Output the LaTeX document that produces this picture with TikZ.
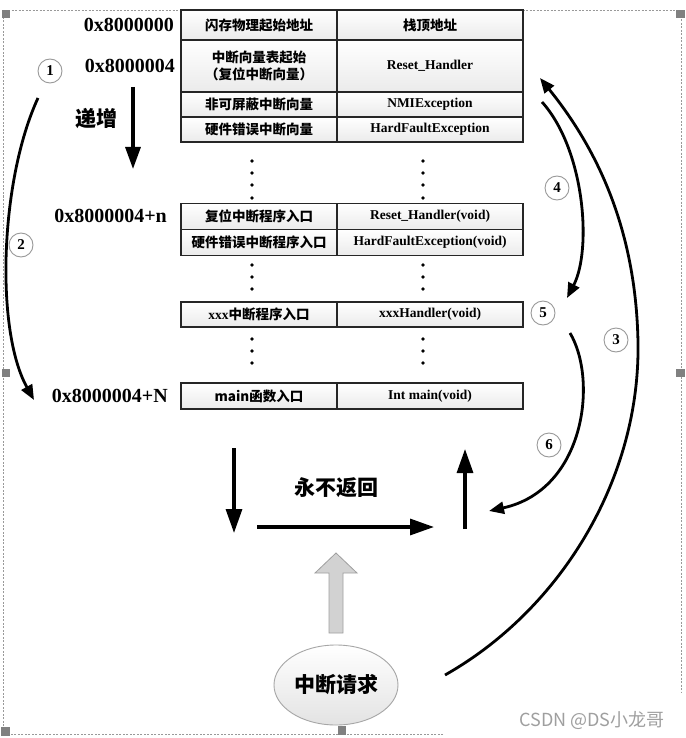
\documentclass[tikz,border=0pt]{standalone}
\usepackage{fontspec}
\setmainfont{Liberation Serif}
\newfontfamily\cjk{Noto Sans CJK SC}
\usetikzlibrary{arrows.meta,shapes.geometric}
\begin{document}
\begin{tikzpicture}[x=1pt,y=-1pt,
  cell/.style={draw=black!85, line width=1.1pt, top color=white, bottom color=gray!16,
    inner sep=0pt, align=center, font=\cjk\bfseries\fontsize{13.5}{17}\selectfont},
  lcell/.style={cell, minimum width=156pt},
  rcell/.style={cell, minimum width=186pt, font=\bfseries\fontsize{13.5}{15}\selectfont},
  addr/.style={anchor=east, inner sep=0pt, font=\bfseries\fontsize{20}{22}\selectfont},
  num/.style={circle, draw=gray!80, line width=0.9pt, minimum size=24pt, inner sep=0pt,
    fill=white, font=\bfseries\fontsize{15}{15}\selectfont},
  big/.style={font=\cjk\bfseries\fontsize{21}{23}\selectfont, inner sep=0pt},
  curv/.style={line width=2.8pt, -{Triangle[length=15pt,width=12pt]}},
  strt/.style={line width=3.2pt, -{Triangle[length=24pt,width=16pt]}},
  handle/.style={fill=gray},
  frame/.style={draw=gray!80, line width=0.7pt, dash pattern=on 2pt off 1.5pt}
]
\useasboundingbox (0,0) rectangle (685,738);
\fill[white] (0,0) rectangle (685,738);

% selection frame
\draw[frame] (443,734) -- (3,734) -- (3,10) -- (681,10) -- (681,693);
\fill[handle] (2,10) rectangle (10,18);
\fill[handle] (338,10) rectangle (346,18);
\fill[handle] (676,10) rectangle (685,18);
\fill[handle] (2,369) rectangle (10,377);
\fill[handle] (676,369) rectangle (685,377);
\fill[handle] (1,727) rectangle (10,736);
\fill[handle] (338,726) rectangle (346,735);

% table, upper part
\node[lcell, minimum height=30pt] (l1) at (259,25) {闪存物理起始地址};
\node[rcell, minimum height=30pt] (r1) at (430,25) {\cjk 栈顶地址};
\node[lcell, minimum height=52pt] (l2) at (259,66) {中断向量表起始\\（复位中断向量）};
\node[rcell, minimum height=52pt] (r2) at (430,66) {Reset\_Handler};
\node[lcell, minimum height=25pt] (l3) at (259,104.5) {非可屏蔽中断向量};
\node[rcell, minimum height=25pt] (r3) at (430,104.5) {NMIException};
\node[lcell, minimum height=25pt] (l4) at (259,129.5) {硬件错误中断向量};
\node[rcell, minimum height=25pt] (r4) at (430,129.5) {HardFaultException};

\node[lcell, minimum height=26pt] (l5) at (259,216.5) {复位中断程序入口};
\node[rcell, minimum height=26pt] (r5) at (430,216.5) {Reset\_Handler(void)};
\node[lcell, minimum height=26pt] (l6) at (259,242.5) {硬件错误中断程序入口};
\node[rcell, minimum height=26pt] (r6) at (430,242.5) {HardFaultException(void)};

\node[lcell, minimum height=25pt] (l7) at (259,314.5) {{\rmfamily\bfseries xxx}中断程序入口};
\node[rcell, minimum height=25pt] (r7) at (430,314.5) {xxxHandler(void)};

\node[lcell, minimum height=26pt] (l8) at (259,396) {main函数入口};
\node[rcell, minimum height=26pt] (r8) at (430,396) {Int main(void)};

% dots
\foreach \y in {161,173,185,198}{\fill (252,\y) circle (1.8); \fill (423,\y) circle (1.8);}
\foreach \y in {265,277,289}{\fill (252,\y) circle (1.8); \fill (423,\y) circle (1.8);}
\foreach \y in {339,351,363}{\fill (252,\y) circle (1.8); \fill (423,\y) circle (1.8);}

% addresses
\node[addr] (a1) at (174,25) {0x8000000};
\node[addr] (a2) at (175,66) {0x8000004};
\node[addr] (a3) at (167,216) {0x8000004+n};
\node[addr] (a4) at (168,396) {0x8000004+N};

% increment
\node[big] (inc) at (96,119) {递增};
\coordinate (incA) at (133,87);
\coordinate (incB) at (133,169);
\draw[line width=3.2pt, -{Triangle[length=22pt,width=15pt]}] (incA) -- (incB);

% circled numbers
\node[num] (n1) at (50,71) {1};
\node[num] (n2) at (21,245) {2};
\node[num] (n3) at (616,340) {3};
\node[num] (n4) at (557,188) {4};
\node[num] (n5) at (543,313) {5};
\node[num] (n6) at (549,445) {6};

% curved arrows
\coordinate (c2s) at (38,98);
\coordinate (c2e) at (34,400);
\draw[curv] (c2s) .. controls (0,180) and (-5,330) .. (c2e);

\coordinate (c4s) at (542,102);
\coordinate (c4e) at (567,298);
\draw[curv] (c4s) .. controls (585,150) and (592,250) .. (c4e);

\coordinate (c3s) at (445,675);
\coordinate (c3m) at (638,343);
\coordinate (c3e) at (540,78);
\draw[curv] (c3s) .. controls (560,610) and (640,480) .. (c3m) .. controls (636,220) and (590,140) .. (c3e);

\coordinate (c6s) at (570,333);
\coordinate (c6e) at (489,511);
\draw[curv] (c6s) .. controls (598,380) and (585,490) .. (c6e);

% main loop arrows
\coordinate (dA) at (234,448);
\coordinate (dB) at (234,533);
\draw[strt] (dA) -- (dB);
\coordinate (hA) at (257,527);
\coordinate (hB) at (434,527);
\draw[strt] (hA) -- (hB);
\coordinate (uA) at (465,529);
\coordinate (uB) at (465,449);
\draw[strt] (uA) -- (uB);
\node[big] (never) at (336,488) {永不返回};

% interrupt request
\node[ellipse, draw=gray!70, line width=0.9pt, top color=white, bottom color=gray!22,
  minimum width=124pt, minimum height=80pt, big] (irq) at (336,685) {中断请求};
\draw[draw=gray!75, fill=gray!35, line width=0.8pt]
  (329,633) -- (343,633) -- (343,573) -- (357,573) -- (336,553) -- (315,573) -- (329,573) -- cycle;

% watermark
\node[font=\cjk\fontsize{18}{20}\selectfont, text=gray!75, inner sep=0pt] (wm) at (592,720) {CSDN @DS小龙哥};
\end{tikzpicture}
\end{document}
